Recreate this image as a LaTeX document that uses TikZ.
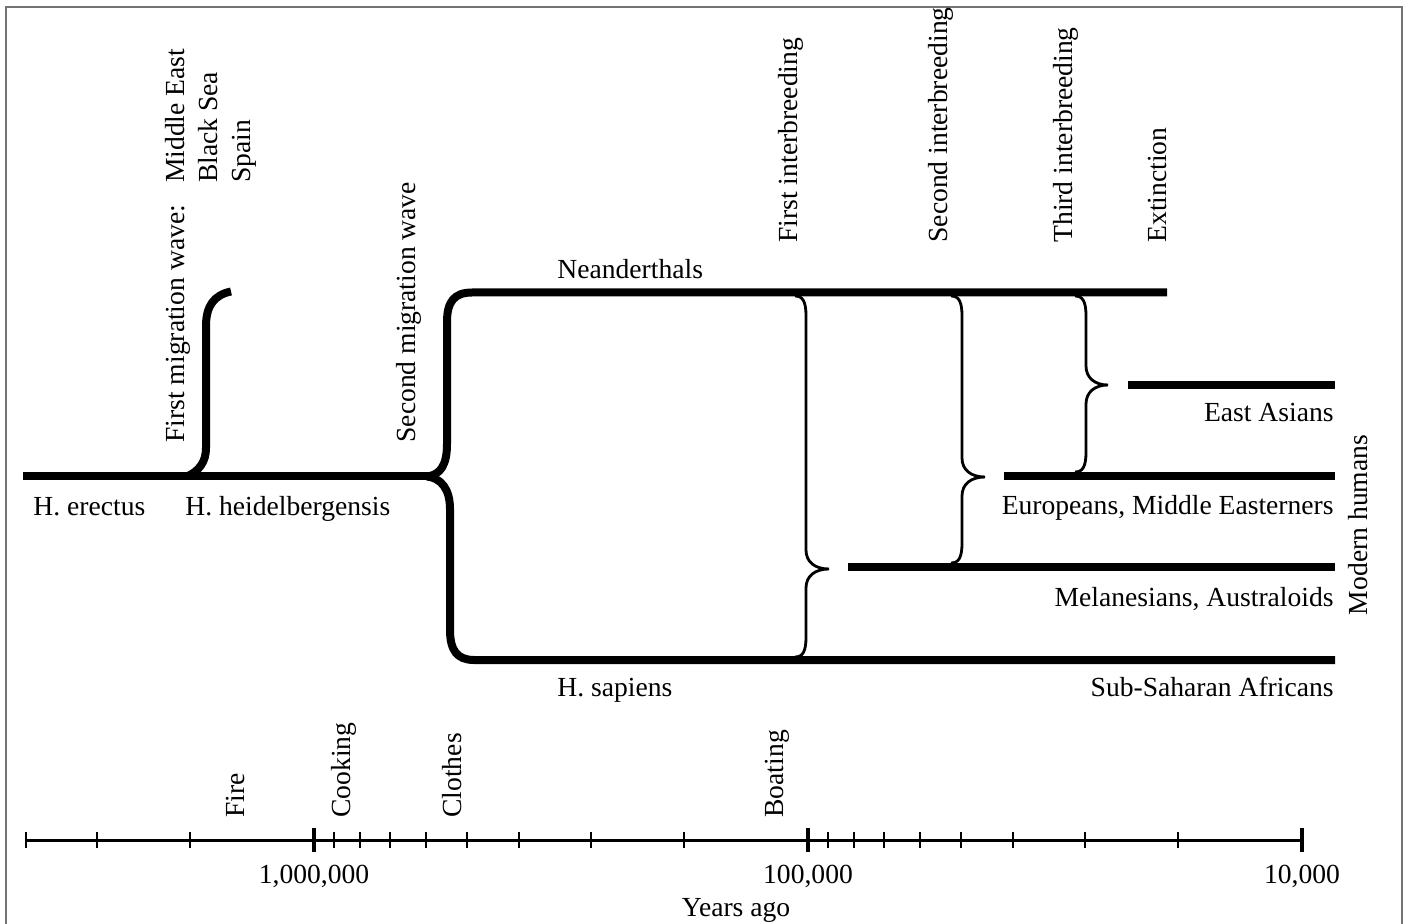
\documentclass[tikz,border=0pt]{standalone}
\usepackage{fontspec}
\setmainfont{Liberation Serif}
\begin{document}
\begin{tikzpicture}[
            x=0.5pt,
            y=-0.5pt,
            font=\fontsize{13.8}{16.5}\selectfont,
            lineage/.style={line width=4pt},
            gene flow/.style={line width=1.4pt},
            axis line/.style={line width=1.5pt},
            minor tick/.style={line width=1pt},
            major tick/.style={line width=1.8pt},
            vlabel/.style={rotate=90, anchor=base west, inner sep=0pt},
            hlabel/.style={anchor=base, inner sep=0pt}
        ]
        \useasboundingbox (0,0) rectangle (1408,924);
        \draw[black!55, line width=0.8pt] (6,924) -- (6,7) -- (1402,7) -- (1402,924);

        \coordinate (erectus) at (23,476.5);
        \coordinate (split) at (430,476.5);
        \coordinate (N end) at (1167,292.5);
        \coordinate (S end) at (1335,660);
        \coordinate (M start) at (848,567.5);
        \coordinate (M end) at (1335,567.5);
        \coordinate (E start) at (1004,476.5);
        \coordinate (E end) at (1335,476.5);
        \coordinate (A start) at (1128,385);
        \coordinate (A end) at (1335,385);

        % lineages
        \draw[lineage] (erectus) -- (split);
        \draw[lineage] (187,476.5) .. controls (199,471) and (206,462) .. (206,448) -- (206,326) .. controls (206,306) and (214,295) .. (231,291.5);
        \draw[lineage] (427,476.5) .. controls (441,475) and (447,464) .. (447,444) -- (447,322) .. controls (447,302) and (454,292.5) .. (472,292.5) -- (N end);
        \draw[lineage] (427,476.5) .. controls (441,478) and (450,489) .. (450,509) -- (450,630) .. controls (450,650) and (457,660) .. (474,660) -- (S end);
        \draw[lineage] (M start) -- (M end);
        \draw[lineage] (E start) -- (E end);
        \draw[lineage] (A start) -- (A end);

        % interbreeding braces
        \draw[gene flow] (795,296) .. controls (803,296) and (806,302) .. (806,316) -- (806,550) .. controls (806,562) and (815,569) .. (829,569) .. controls (815,569) and (806,576) .. (806,588) -- (806,637) .. controls (806,651) and (803,657) .. (795,657);
        \draw[gene flow] (951,296) .. controls (959,296) and (962,302) .. (962,316) -- (962,458) .. controls (962,470) and (971,477) .. (985,477) .. controls (971,477) and (962,484) .. (962,496) -- (962,543) .. controls (962,557) and (959,563) .. (951,563);
        \draw[gene flow] (1075,296) .. controls (1083,296) and (1086,302) .. (1086,316) -- (1086,366) .. controls (1086,378) and (1095,385) .. (1108,385) .. controls (1095,385) and (1086,392) .. (1086,404) -- (1086,452) .. controls (1086,466) and (1083,472) .. (1075,472);

        \node[hlabel, anchor=base west] (erectus lbl) at (33,516) {H. erectus};
        \node[hlabel, anchor=base west] (heidel lbl) at (185,516) {H. heidelbergensis};
        \node[hlabel, anchor=base west] (neand lbl) at (557,279) {Neanderthals};
        \node[hlabel, anchor=base west] (sapiens lbl) at (557,697) {H. sapiens};
        \node[hlabel, anchor=base east] (asia lbl) at (1334,422) {East Asians};
        \node[hlabel, anchor=base east] (europe lbl) at (1334,515) {Europeans, Middle Easterners};
        \node[hlabel, anchor=base east] (melan lbl) at (1334,607) {Melanesians, Australoids};
        \node[hlabel, anchor=base east] (africa lbl) at (1334,697) {Sub-Saharan Africans};
        \node[rotate=90, anchor=base, inner sep=0pt] (modern lbl) at (1367,525) {Modern humans};

        \node[vlabel] (wave1 lbl) at (184,443) {\begin{tabular}[t]{@{}l@{\hspace{11pt}}l@{}}First migration wave: & Middle East\\ & Black Sea\\ & Spain\end{tabular}};
        \node[vlabel] (wave2 lbl) at (415,443) {Second migration wave};
        \node[vlabel] (inter1 lbl) at (797,243) {First interbreeding};
        \node[vlabel] (inter2 lbl) at (947,243) {Second interbreeding};
        \node[vlabel] (inter3 lbl) at (1072,243) {Third interbreeding};
        \node[vlabel] (extinct lbl) at (1166,243) {Extinction};

        % time axis
        \draw[axis line] (26,840) -- (1302,840);
        \foreach \t in {26,97,190,334,360,390,426,467,519,591,684,828,854,884,920,961,1013,1085,1178}
            \draw[minor tick] (\t,832) -- (\t,848);
        \foreach \t in {314,808,1302}
            \draw[major tick] (\t,828) -- (\t,852);
        \node[vlabel] (fire lbl) at (244,818) {Fire};
        \node[vlabel] (cook lbl) at (350,818) {Cooking};
        \node[vlabel] (clothes lbl) at (461,818) {Clothes};
        \node[vlabel] (boat lbl) at (783,818) {Boating};
        \node[hlabel] (mya lbl) at (314,883) {1,000,000};
        \node[hlabel] (k100 lbl) at (808,883) {100,000};
        \node[hlabel] (k10 lbl) at (1302,883) {10,000};
        \node[hlabel] (years lbl) at (736,916) {Years ago};
    \end{tikzpicture}
\end{document}
